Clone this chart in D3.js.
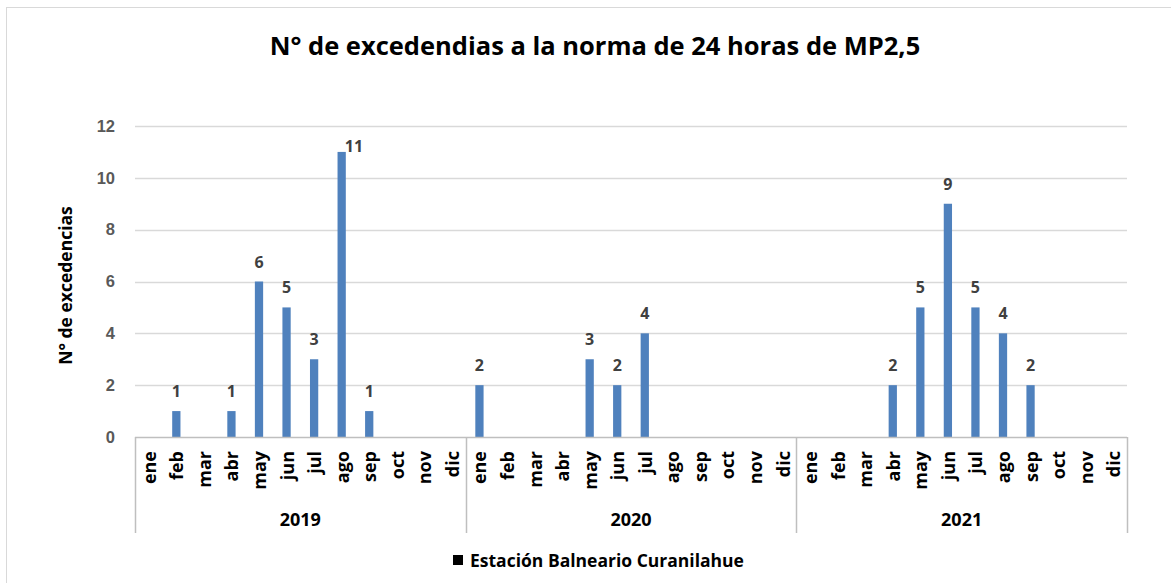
<!DOCTYPE html>
<html>
<head>
<meta charset="utf-8">
<script src="https://cdn.jsdelivr.net/npm/d3@7"></script>
<style>
  body { margin: 0; background: #fff; }
  svg { display: block; }
</style>
</head>
<body>
<svg id="chart"></svg>
<script>
// data
const years = ["2019", "2020", "2021"];
const months = ["ene", "feb", "mar", "abr", "may", "jun", "jul", "ago", "sep", "oct", "nov", "dic"];
const values2019 = [0, 1, 0, 1, 6, 5, 3, 11, 1, 0, 0, 0];
const values2020 = [2, 0, 0, 0, 3, 2, 4, 0, 0, 0, 0, 0];
const values2021 = [0, 0, 0, 2, 5, 9, 5, 4, 2, 0, 0, 0];
const yTicks = [0, 2, 4, 6, 8, 10, 12];
const seriesName = "Estación Balneario Curanilahue";
const title = "N° de excedendias a la norma de 24 horas de MP2,5";
const yTitle = "N° de excedencias";

// flatten into one row per month
const rows = [];
[values2019, values2020, values2021].forEach((vals, yi) => {
    vals.forEach((v, mi) => {
        rows.push({ key: years[yi] + "-" + months[mi], year: years[yi], month: months[mi], value: v });
    });
});

const W = 1171, H = 583;
const margin = { top: 126, right: 44, bottom: 146, left: 135 };
const width = W - margin.left - margin.right,
    height = H - margin.top - margin.bottom;

const font = "'Open Sans', Lato, sans-serif";

const svg = d3.select("#chart").attr("width", W).attr("height", H);

// outer chart border (only left and top edges visible in the crop)
svg.append("rect")
    .attr("x", 6.5).attr("y", 7.5)
    .attr("width", W + 20).attr("height", H + 20)
    .attr("fill", "none")
    .attr("stroke", "#d9d9d9");

svg.append("text")
    .attr("x", 595).attr("y", 55)
    .attr("text-anchor", "middle")
    .attr("font-family", font)
    .attr("font-weight", "bold")
    .attr("font-size", 25.5)
    .attr("fill", "#000")
    .text(title);

const g = svg.append("g").attr("transform", `translate(${margin.left},${margin.top})`);

const x = d3.scaleBand()
    .domain(rows.map(d => d.key))
    .range([0, width])
    .paddingInner(0.7)
    .paddingOuter(0.35);

const y = d3.scaleLinear().domain([0, 12]).range([height, 0]);

// gridlines
g.selectAll(".grid")
    .data(yTicks.filter(t => t > 0))
    .enter().append("line")
    .attr("class", "grid")
    .attr("x1", 0).attr("x2", width)
    .attr("y1", d => Math.round(y(d)) + 0.5)
    .attr("y2", d => Math.round(y(d)) + 0.5)
    .attr("stroke", "#d9d9d9")
    .attr("stroke-width", 1.5);

// y axis labels
const yAxis = g.append("g")
    .call(d3.axisLeft(y).tickValues(yTicks).tickSize(0).tickPadding(20));
yAxis.select(".domain").remove();
yAxis.selectAll("text")
    .attr("font-family", "'Liberation Sans', Arial, sans-serif")
    .attr("font-weight", "bold")
    .attr("font-size", 16.5)
    .attr("fill", "#595959");

// y title
svg.append("text")
    .attr("transform", `translate(72,${margin.top + height / 2 + 4}) rotate(-90)`)
    .attr("text-anchor", "middle")
    .attr("font-family", font)
    .attr("font-weight", "bold")
    .attr("font-size", 17.5)
    .attr("fill", "#000")
    .text(yTitle);

// bars
const bars = rows.filter(d => d.value > 0);
g.selectAll(".bar")
    .data(bars)
    .enter().append("rect")
    .attr("class", "bar")
    .attr("x", d => x(d.key))
    .attr("y", d => y(d.value))
    .attr("width", x.bandwidth())
    .attr("height", d => y(0) - y(d.value))
    .attr("fill", "#4f81bd");

// data labels (the tallest one sits off to the right, as in the picture)
const maxVal = d3.max(rows, d => d.value);
g.selectAll(".lbl")
    .data(bars)
    .enter().append("text")
    .attr("class", "lbl")
    .attr("x", d => d.value === maxVal ? x(d.key) + x.bandwidth() - 1 : x(d.key) + x.bandwidth() / 2)
    .attr("y", d => d.value === maxVal ? y(d.value) : y(d.value) - 14)
    .attr("text-anchor", d => d.value === maxVal ? "start" : "middle")
    .attr("font-family", font)
    .attr("font-weight", "bold")
    .attr("font-size", 16)
    .attr("fill", "#404040")
    .text(d => d.value);

// baseline
g.append("line")
    .attr("x1", 0).attr("x2", width)
    .attr("y1", height + 0.5).attr("y2", height + 0.5)
    .attr("stroke", "#bfbfbf")
    .attr("stroke-width", 1.5);

// month labels
g.selectAll(".month")
    .data(rows)
    .enter().append("text")
    .attr("class", "month")
    .attr("transform", d => `translate(${x(d.key) + x.bandwidth() / 2 + 7},${height + 14}) rotate(-90)`)
    .attr("text-anchor", "end")
    .attr("font-family", font)
    .attr("font-weight", "bold")
    .attr("font-size", 18)
    .attr("fill", "#000")
    .text(d => d.month);

// year group separators and labels
const bounds = years.map((yr, i) => (width / years.length) * i).concat([width]);
g.selectAll(".sep")
    .data(bounds)
    .enter().append("line")
    .attr("class", "sep")
    .attr("x1", d => Math.round(d) + 0.5).attr("x2", d => Math.round(d) + 0.5)
    .attr("y1", height).attr("y2", height + 96)
    .attr("stroke", "#bfbfbf")
    .attr("stroke-width", 1.5);

g.selectAll(".year")
    .data(years)
    .enter().append("text")
    .attr("class", "year")
    .attr("x", (d, i) => (bounds[i] + bounds[i + 1]) / 2)
    .attr("y", height + 89)
    .attr("text-anchor", "middle")
    .attr("font-family", font)
    .attr("font-weight", "bold")
    .attr("font-size", 18)
    .attr("fill", "#000")
    .text(d => d);

// legend
const legend = svg.append("g").attr("transform", "translate(453,555)");
legend.append("rect")
    .attr("x", 0).attr("y", 0)
    .attr("width", 10).attr("height", 10)
    .attr("fill", "#000");
legend.append("text")
    .attr("x", 17).attr("y", 12)
    .attr("font-family", font)
    .attr("font-weight", "bold")
    .attr("font-size", 17.5)
    .attr("fill", "#000")
    .text(seriesName);
</script>
</body>
</html>
